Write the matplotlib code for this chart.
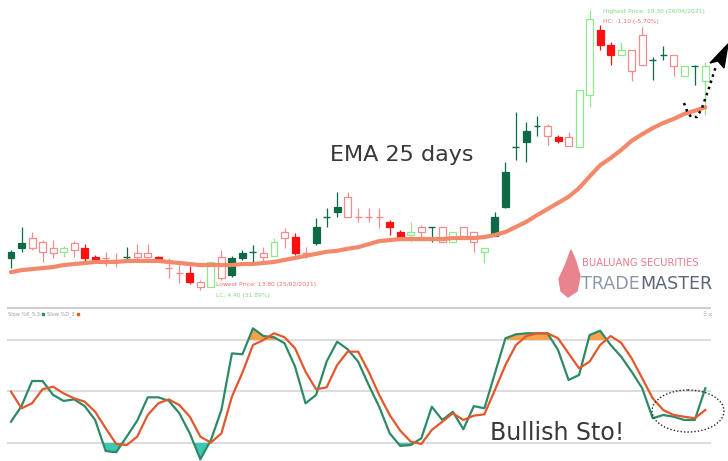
import numpy as np
import matplotlib
matplotlib.use("Agg")
import matplotlib.pyplot as plt
from matplotlib.patches import Rectangle, Ellipse, Polygon

# candle type: dg = dark green filled, r = red filled, p = pink hollow, g = light green hollow
kinds = ["dg", "dg", "p", "p", "p", "g", "p", "r", "r", "p",
         "p", "dg", "p", "p", "r", "p", "p", "r", "p", "g",
         "p", "dg", "dg", "dg", "p", "g", "p", "r", "p", "dg",
         "dg", "dg", "p", "p", "p", "p", "r", "r", "g", "p",
         "dg", "p", "g", "p", "p", "g", "dg", "dg", "dg", "dg",
         "dg", "p", "r", "p", "g", "g", "r", "r", "g", "p",
         "p", "dg", "dg", "p", "g", "dg", "g"]

opens = [14.55, 14.72, 14.63, 14.55, 14.53, 14.55, 14.59, 14.63, 14.45, 14.43,
         14.39, 14.45, 14.45, 14.45, 14.45, 14.23, 14.13, 14.13, 13.86, 13.86,
         14.04, 14.43, 14.53, 14.55, 14.45, 14.47, 14.82, 14.84, 14.53, 15.04,
         15.23, 15.43, 15.23, 15.23, 15.23, 15.23, 15.14, 14.94, 14.88, 14.94,
         15.04, 14.74, 14.74, 14.86, 14.74, 14.55, 15.23, 16.12, 16.61, 16.92,
         17.02, 16.82, 16.81, 16.63, 16.61, 17.63, 18.91, 18.61, 18.42, 18.10,
         18.22, 18.32, 18.42, 18.20, 18.00, 18.20, 17.91]
highs = [14.59, 15.04, 14.94, 14.78, 14.78, 14.66, 14.76, 14.70, 14.49, 14.55,
         14.53, 14.64, 14.70, 14.70, 14.47, 14.43, 14.29, 14.27, 14.00, 14.35,
         14.59, 14.47, 14.59, 14.68, 14.64, 14.82, 15.02, 14.92, 14.64, 15.21,
         15.41, 15.73, 15.73, 15.41, 15.41, 15.41, 15.18, 14.98, 15.14, 15.08,
         15.04, 15.04, 14.94, 15.04, 14.94, 14.63, 15.33, 16.31, 17.30, 17.10,
         17.22, 17.06, 16.84, 16.90, 17.73, 19.30, 19.01, 18.67, 18.67, 18.51,
         18.97, 18.38, 18.59, 18.42, 18.20, 18.22, 18.28]
lows = [14.23, 14.55, 14.59, 14.35, 14.43, 14.45, 14.45, 14.35, 14.35, 14.27,
        14.25, 14.35, 14.35, 14.43, 14.39, 14.04, 13.94, 13.92, 13.80, 13.86,
        14.00, 14.06, 14.39, 14.35, 14.35, 14.47, 14.63, 14.49, 14.43, 14.68,
        15.04, 15.23, 15.23, 15.14, 15.14, 15.02, 14.88, 14.78, 14.74, 14.84,
        14.74, 14.74, 14.74, 14.86, 14.55, 14.33, 14.86, 15.41, 16.35, 16.31,
        16.82, 16.65, 16.69, 16.63, 16.61, 17.39, 18.51, 18.22, 18.42, 17.91,
        18.22, 17.93, 18.32, 18.00, 18.00, 17.83, 17.24]
closes = [14.43, 14.63, 14.82, 14.74, 14.63, 14.63, 14.72, 14.43, 14.37, 14.43,
          14.39, 14.45, 14.53, 14.53, 14.41, 14.23, 14.13, 13.96, 13.96, 14.35,
          14.45, 14.10, 14.43, 14.55, 14.53, 14.74, 14.94, 14.53, 14.53, 14.72,
          15.23, 15.33, 15.63, 15.23, 15.23, 15.23, 15.04, 14.82, 14.94, 15.04,
          15.04, 15.04, 14.94, 15.04, 14.94, 14.63, 14.86, 15.43, 16.61, 16.71,
          17.02, 17.02, 16.73, 16.81, 17.73, 19.12, 18.61, 18.42, 18.51, 18.51,
          18.81, 18.32, 18.42, 18.42, 18.20, 18.20, 18.20]
ema25 = [14.15, 14.19, 14.21, 14.23, 14.25, 14.29, 14.31, 14.33, 14.35, 14.35,
         14.35, 14.37, 14.37, 14.37, 14.37, 14.35, 14.33, 14.31, 14.29, 14.29,
         14.29, 14.29, 14.31, 14.31, 14.33, 14.35, 14.39, 14.43, 14.47, 14.51,
         14.55, 14.57, 14.61, 14.64, 14.70, 14.76, 14.78, 14.80, 14.80, 14.80,
         14.80, 14.80, 14.82, 14.82, 14.82, 14.84, 14.88, 14.94, 15.04, 15.14,
         15.27, 15.39, 15.51, 15.63, 15.80, 16.03, 16.25, 16.39, 16.55, 16.73,
         16.86, 16.98, 17.08, 17.16, 17.26, 17.32, 17.39]

stoch_k = [32.4, 41.5, 56.1, 56.1, 48.0, 44.5, 45.4, 41.5, 33.4, 15.3,
           14.6, 23.7, 33.0, 46.6, 46.6, 44.6, 37.3, 25.6, 10.5, 21.7,
           39.2, 72.2, 71.7, 86.8, 82.3, 81.6, 78.1, 64.5, 43.1, 48.0,
           67.4, 79.0, 74.6, 67.4, 53.8, 41.1, 25.6, 18.3, 18.8, 22.7,
           41.1, 33.4, 38.2, 28.0, 41.5, 40.2, 60.6, 81.0, 83.3, 83.9,
           83.9, 83.9, 74.2, 56.7, 59.6, 82.9, 85.4, 77.1, 70.3, 61.5,
           51.9, 34.4, 36.3, 35.3, 33.4, 33.4, 51.9]
stoch_d = [49.9, 40.2, 43.1, 51.3, 52.8, 48.9, 46.0, 44.1, 38.2, 28.6,
           19.4, 18.8, 23.7, 36.3, 43.1, 45.4, 42.1, 35.3, 23.7, 20.2,
           25.6, 47.0, 61.0, 77.1, 80.0, 83.9, 81.6, 75.2, 61.5, 51.3,
           52.4, 65.4, 73.2, 73.2, 61.5, 48.0, 36.3, 27.2, 20.8, 19.4,
           27.6, 32.4, 37.3, 33.4, 35.9, 36.7, 50.9, 65.4, 77.1, 82.3,
           83.9, 83.9, 81.0, 72.2, 63.5, 67.4, 77.1, 82.3, 78.4, 69.3,
           57.7, 46.0, 39.2, 36.3, 35.3, 34.4, 39.2]
stoch_levels = [80, 50, 20]

colors = {"dg": "#0e6a44", "r": "#ff1010", "p": "#f28c8c", "g": "#8ee88e"}

W, H = 728, 461
fig = plt.figure(figsize=(W / 100, H / 100), dpi=100)
ax = fig.add_axes([0, 1 - 305 / H, 1, 305 / H])
ax2 = fig.add_axes([0, 0, 1, 161 / H])
over = fig.add_axes([0, 0, 1, 1])
over.set_xlim(0, W)
over.set_ylim(H, 0)
over.axis("off")
over.patch.set_alpha(0)
renderer = fig.canvas.get_renderer()


def text_width(t):
    return t.get_window_extent(renderer).width


x = np.arange(len(opens))
xlim = (-11 / 10.52, (W - 11) / 10.52)

# ---- candles ----
for i, k in enumerate(kinds):
    col = colors[k]
    o, c = opens[i], closes[i]
    ax.vlines(i, lows[i], highs[i], color=col, lw=0.9, zorder=2)
    if abs(c - o) < 0.005:
        ax.hlines(o, i - 0.33, i + 0.33, color=col, lw=1.0, zorder=3)
    else:
        face = col if k in ("dg", "r") else "white"
        ax.add_patch(Rectangle((i - 0.33, min(o, c)), 0.66, abs(c - o),
                               facecolor=face, edgecolor=col, lw=0.9, zorder=3))

ax.plot(x, ema25, color="#f4886a", lw=3, solid_capstyle="round", zorder=4)
ax.set_xlim(*xlim)
ax.set_ylim(13.505, 19.496)
ax.axis("off")

# ---- stochastic ----
ax2.hlines(stoch_levels, -0.38, 66.54, color="#d6d6d6", lw=1.2, zorder=1)
ax2.hlines(98.9, -0.38, 66.54, color="#cfcfcf", lw=1.5, zorder=1)
k_arr = np.array(stoch_k)
ax2.fill_between(x, k_arr, 80, where=k_arr > 80, interpolate=True,
                 color="#f7a24a", lw=0, zorder=2)
ax2.fill_between(x, k_arr, 20, where=k_arr < 20, interpolate=True,
                 color="#3cc8b2", lw=0, zorder=2)
ax2.plot(x, stoch_k, color="#2e8a66", lw=1.6, zorder=3)
ax2.plot(x, stoch_d, color="#e2582c", lw=1.6, zorder=3)
ax2.set_xlim(*xlim)
ax2.set_ylim(9.5, 103.3)
ax2.axis("off")

# ---- annotations (pixel coords) ----
over.text(330, 155, "EMA 25 days", fontsize=16, color="#383838", va="center")
over.text(490, 433, "Bullish Sto!", fontsize=17, color="#383838", va="center")

over.text(603, 12, "Highest Price: 19.30 (26/04/2021)", fontsize=4.3,
          color="#7fd87f", va="center")
over.text(603, 22, "HC: -1.10 (-5.70%)", fontsize=4.3, color="#f06c6c", va="center")
over.text(216, 284, "Lowest Price: 13.80 (25/02/2021)", fontsize=4.3,
          color="#f06c6c", va="center")
over.text(216, 295, "LC: 4.40 (31.89%)", fontsize=4.3, color="#7fd87f", va="center")

# legend of the stochastic panel, placed one item after the other
lx = 8
for label, col in [("Slow %K_5,3", "#2e8a66"), ("Slow %D_3", "#e2582c")]:
    t = over.text(lx, 314, label, fontsize=3.6, color="#9a9a9a", va="center")
    lx += text_width(t) + 2
    over.plot([lx + 1], [314], "s", color=col, ms=1.8)
    lx += 5
over.text(703, 314, "\u283f x", fontsize=4, color="#9a9a9a", va="center")

# dotted arrow at the right
px = [684, 687, 691, 697, 702, 709, 716]
py = [103, 111, 117, 117, 108, 88, 66]
over.plot(px, py, ls=(0, (1, 1.6)), color="black", lw=1.8, zorder=5)
over.add_patch(Polygon([(728, 44), (710, 63), (718, 61), (724, 68)],
                       closed=True, color="black", zorder=5))

# dotted ellipse round the bullish cross
over.add_patch(Ellipse((688, 411), 72, 42, fill=False, ls=(0, (1, 1.5)),
                       lw=1.0, edgecolor="#222222", zorder=5))

# logo
over.add_patch(Polygon([(571, 250), (576, 262), (580, 276), (577, 291), (568, 297),
                        (561, 291), (559, 279), (565, 266)],
                       closed=True, color="#e9838d", zorder=5))
sub = over.text(582, 263, "BUALUANG SECURITIES", fontsize=8, color="#e67c8a",
                va="center")
sub.set_fontsize(8 * 118 / text_width(sub))
t1 = over.text(581, 284, "TRADE", fontsize=20, color="#8a98aa", va="center")
t2 = over.text(650, 284, "MASTER", fontsize=20, color="#5a6678", va="center")
scale = 131 / (text_width(t1) + text_width(t2))
t1.set_fontsize(20 * scale)
t2.set_fontsize(20 * scale)
t2.set_x(581 + text_width(t1))

fig.savefig("out.png", dpi=100)
